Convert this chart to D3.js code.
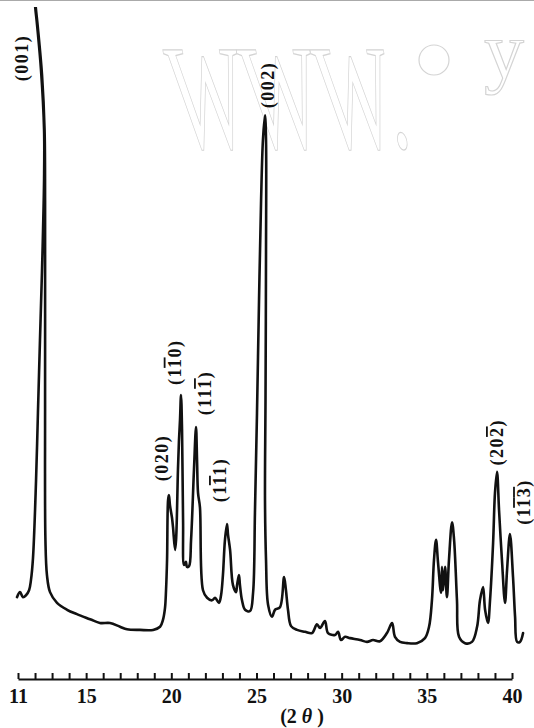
<!DOCTYPE html>
<html>
<head>
<meta charset="utf-8">
<script src="https://cdn.jsdelivr.net/npm/d3@7"></script>
<style>
  html, body { margin: 0; padding: 0; background: #fff; }
  svg { display: block; }
</style>
</head>
<body>
<svg id="chart" width="534" height="728"></svg>
<script>
// XRD trace: 2θ (deg) and relative intensity
const twoTheta = [
  10.94, 11.12, 11.29, 11.47, 11.65, 11.76, 11.88, 12.06, 12.17, 12.29, 12.41, 12.47, 12.53, 12.53, 12.35, 12.12, 12.00, 11.97,
  12.03, 12.17, 12.41, 12.56, 12.59, 12.59, 12.61, 12.70, 12.88, 13.29, 13.88, 14.46, 15.23, 15.81, 16.40, 16.99, 17.40, 18.16,
  18.93, 19.34, 19.51, 19.63, 19.69, 19.75, 19.81, 19.86, 19.92, 20.04, 20.10, 20.22, 20.28, 20.39, 20.45, 20.51, 20.57, 20.63,
  20.69, 20.75, 20.86, 20.92, 21.04, 21.16, 21.33, 21.45, 21.51, 21.57, 21.68, 21.86, 22.10, 22.39, 22.57, 22.80, 22.92, 23.03,
  23.15, 23.27, 23.33, 23.45, 23.62, 23.80, 23.86, 23.97, 24.03, 24.15, 24.33, 24.62, 24.80, 24.91, 25.03, 25.15, 25.27, 25.38,
  25.50, 25.56, 25.56, 25.53, 25.50, 25.56, 25.68, 25.91, 26.09, 26.38, 26.62, 26.73, 26.85, 27.03, 27.38, 27.85, 28.26, 28.55,
  28.73, 29.02, 29.20, 29.61, 29.79, 29.96, 30.20, 30.49, 31.08, 31.49, 31.84, 32.25, 32.66, 32.96, 33.13, 33.43, 33.84, 34.42,
  34.89, 35.13, 35.30, 35.42, 35.54, 35.66, 35.83, 35.89, 35.95, 36.07, 36.18, 36.30, 36.48, 36.60, 36.77, 36.89, 37.24, 37.65,
  37.95, 38.12, 38.30, 38.42, 38.59, 38.71, 38.89, 39.00, 39.12, 39.24, 39.41, 39.59, 39.71, 39.88, 40.06, 40.18, 40.30, 40.47,
  40.65
];
const intensity = [
  6.8, 7.6, 6.8, 7.1, 7.9, 9.5, 13.0, 25.4, 36.0, 47.6, 58.7, 65.1, 73.0, 81.0, 90.5, 97.6, 100.8, 103.2,
  100.8, 97.1, 89.7, 81.0, 69.8, 38.1, 15.9, 10.3, 7.6, 5.9, 4.8, 4.1, 3.3, 2.7, 2.7, 2.1, 1.7, 1.6,
  1.6, 2.1, 3.2, 5.1, 7.9, 12.7, 22.2, 23.0, 21.4, 19.4, 17.9, 14.3, 15.9, 27.0, 31.7, 34.9, 38.9, 33.3,
  19.0, 11.9, 12.4, 11.6, 11.7, 15.9, 27.0, 33.8, 28.6, 23.3, 21.1, 7.9, 6.7, 6.3, 6.7, 5.9, 7.1, 10.3,
  15.9, 18.4, 16.7, 14.3, 8.7, 7.6, 8.7, 10.3, 8.7, 6.3, 4.8, 4.6, 7.5, 20.2, 36.0, 54.0, 69.8, 79.4,
  83.3, 79.4, 61.9, 38.1, 22.2, 12.7, 5.6, 3.7, 4.8, 5.2, 10.0, 7.9, 4.8, 2.2, 1.6, 1.3, 1.1, 2.5,
  1.9, 3.0, 1.1, 0.8, 1.3, 0.0, 0.5, 0.3, 0.0, -0.3, 0.0, -0.2, 1.1, 2.7, 0.5, -0.3, -0.5, -0.5,
  0.3, 2.1, 6.3, 12.7, 15.9, 12.2, 7.5, 11.6, 7.9, 11.6, 6.8, 12.7, 18.7, 15.9, 6.3, 0.5, -0.5, -0.3,
  2.1, 6.3, 8.4, 4.8, 2.7, 6.3, 15.4, 23.3, 26.7, 20.6, 12.7, 5.9, 11.1, 16.8, 10.0, 3.7, -0.3, -0.3,
  1.1
];

const tickLabels = [11, 15, 20, 25, 30, 35, 40];
const minorTicks = d3.range(11, 41);

// peak labels: [text, barred] segments, anchored at (2θ, intensity)
const peakNames = [
  [["(001)", false]],
  [["(002)", false]],
  [["(020)", false]],
  [["(1", false], ["1", true], ["0)", false]],
  [["(11", false], ["1", true], [")", false]],
  [["(1", false], ["1", true], ["1)", false]],
  [["(20", false], ["2", true], [")", false]],
  [["(1", false], ["1", true], ["3", true], [")", false]]
];
const peakTheta = [11.26, 25.68, 19.45, 20.20, 21.98, 22.86, 39.12, 40.71];
const peakLevel = [92.4, 88.1, 28.9, 44.1, 39.2, 25.4, 31.4, 21.9];

const width = 534, height = 728;
const svg = d3.select("#chart");

const x = d3.scaleLinear().domain([11, 40]).range([18, 512]);
const y = d3.scaleLinear().domain([0, 100]).range([640, 10]);

// watermark
const wm = svg.append("g").attr("fill", "none").attr("stroke", "#d4d4d4").attr("stroke-width", 1.2);
wm.append("text")
  .attr("transform", "translate(180,148) skewX(10) scale(0.52,1)")
  .attr("style", "font-family: 'Liberation Serif'; font-size: 150px;")
  .text("WWW.");
wm.append("circle").attr("cx", 434).attr("cy", 60).attr("r", 15);
wm.append("text")
  .attr("x", 484).attr("y", 78)
  .attr("style", "font-family: 'Liberation Serif'; font-size: 80px;")
  .text("y");

// faint top border left from the scan
svg.append("line")
  .attr("x1", 0).attr("x2", width).attr("y1", 0.5).attr("y2", 0.5)
  .attr("stroke", "#aaa").attr("stroke-width", 1);

svg.append("defs").append("clipPath").attr("id", "plot-clip")
  .append("rect").attr("x", 0).attr("y", 7).attr("width", width).attr("height", height - 7);

const points = twoTheta.map((t, i) => [t, intensity[i]]);
const line = d3.line()
  .x(d => x(d[0]))
  .y(d => y(d[1]))
  .curve(d3.curveCatmullRom.alpha(0.5));

svg.append("path")
  .datum(points)
  .attr("clip-path", "url(#plot-clip)")
  .attr("fill", "none")
  .attr("stroke", "#111")
  .attr("stroke-width", 2.6)
  .attr("stroke-linejoin", "round")
  .attr("stroke-linecap", "round")
  .attr("d", line);

// axis: ticks up, labels below
const axisY = 679;
const ticks = svg.append("g")
  .attr("transform", `translate(0,${axisY})`)
  .call(d3.axisTop(x).tickValues(minorTicks).tickSize(6).tickSizeOuter(0).tickFormat(""));
ticks.select(".domain").attr("stroke", "#111").attr("stroke-width", 2.2);
ticks.selectAll(".tick line").attr("stroke", "#111").attr("stroke-width", 2);

const labels = svg.append("g")
  .attr("transform", `translate(0,${axisY})`)
  .call(d3.axisBottom(x).tickValues(tickLabels).tickSize(0).tickPadding(10).tickFormat(d3.format("d")));
labels.select(".domain").remove();
labels.selectAll(".tick text")
  .attr("fill", "#111")
  .attr("dy", "0.71em")
  .attr("style", "font-family: 'Liberation Serif'; font-size: 20px; font-weight: bold;");

const title = svg.append("text")
  .attr("x", 302).attr("y", 723)
  .attr("text-anchor", "middle")
  .attr("fill", "#111")
  .attr("style", "font-family: 'Liberation Serif'; font-size: 20px; font-weight: bold;");
title.append("tspan").text("(2 ");
title.append("tspan").attr("font-style", "italic").text("θ");
title.append("tspan").text(" )");

// peak labels, written vertically
peakNames.forEach((parts, i) => {
  const t = svg.append("text")
    .attr("transform", `translate(${x(peakTheta[i])},${y(peakLevel[i])}) rotate(-90)`)
    .attr("text-anchor", "middle")
    .attr("dominant-baseline", "central")
    .attr("fill", "#111")
    .attr("style", "font-family: 'Liberation Serif'; font-size: 18px; font-weight: bold; letter-spacing: 1.5px;");
  parts.forEach(([s, bar]) => {
    t.append("tspan")
      .attr("style", bar ? "text-decoration: overline;" : null)
      .text(s);
  });
});
</script>
</body>
</html>
